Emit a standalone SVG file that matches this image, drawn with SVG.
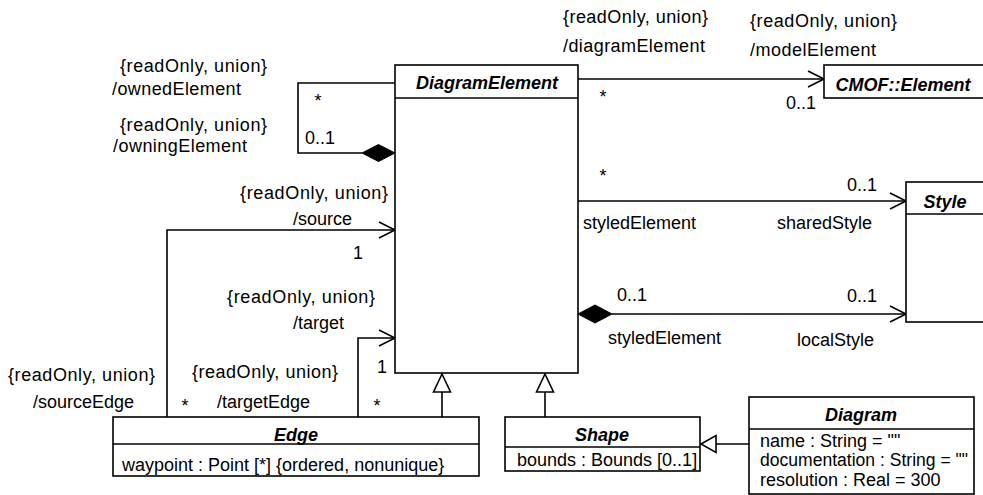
<svg xmlns="http://www.w3.org/2000/svg" width="983" height="495" viewBox="0 0 983 495">
<defs>
<style>
.t{font-family:"Liberation Sans",Arial,sans-serif;font-size:18px;fill:#000}
.m{text-anchor:middle}
.b{font-family:"Liberation Sans",Arial,sans-serif;font-size:18px;font-weight:bold;font-style:italic;fill:#000;text-anchor:middle}
.box{fill:#fff;stroke:#000;stroke-width:1.6}
.ln{fill:none;stroke:#000;stroke-width:1.6}
.dia{fill:#000;stroke:#000;stroke-width:1}
.tri{fill:#fff;stroke:#000;stroke-width:1.6}
</style>
</defs>
<rect width="983" height="495" fill="#fff"/>

<g id="connectors">
<polyline class="ln" points="395,83 298,83 298,153 362,153"/>
<polygon class="dia" points="395,153 378.5,144.5 362,153 378.5,161.5"/>
<line class="ln" x1="578" y1="79" x2="824" y2="79"/>
<polyline class="ln" points="808,71 824,79 808,87"/>
<line class="ln" x1="578" y1="201" x2="906" y2="201"/>
<polyline class="ln" points="890,193 906,201 890,209"/>
<line class="ln" x1="612" y1="314" x2="906" y2="314"/>
<polyline class="ln" points="890,306 906,314 890,322"/>
<polygon class="dia" points="578,314 595,305 612,314 595,323"/>
<polyline class="ln" points="167,417 167,230 395,230"/>
<polyline class="ln" points="379,222 395,230 379,238"/>
<polyline class="ln" points="358,417 358,338 395,338"/>
<polyline class="ln" points="379,330 395,338 379,346"/>
<line class="ln" x1="442" y1="417" x2="442" y2="392"/>
<polygon class="tri" points="442,374 433.5,392 450.5,392"/>
<line class="ln" x1="545" y1="417" x2="545" y2="392"/>
<polygon class="tri" points="545,374 536.5,392 553.5,392"/>
<line class="ln" x1="749" y1="444" x2="716" y2="444"/>
<polygon class="tri" points="701,444 716,435.5 716,452.5"/>
</g>

<g id="labels">
<text class="t" x="120" y="72" textLength="147">{readOnly, union}</text>
<text class="t" x="112" y="95" textLength="129">/ownedElement</text>
<text class="t" x="120" y="131" textLength="147">{readOnly, union}</text>
<text class="t" x="113" y="152" textLength="134">/owningElement</text>
<text class="t m" x="318" y="107">*</text>
<text class="t" x="305" y="144">0..1</text>

<text class="t" x="563" y="23" textLength="145">{readOnly, union}</text>
<text class="t" x="563" y="52" textLength="142">/diagramElement</text>
<text class="t" x="750" y="27" textLength="147">{readOnly, union}</text>
<text class="t" x="750" y="56" textLength="126">/modelElement</text>
<text class="t m" x="603" y="103">*</text>
<text class="t" x="786" y="109">0..1</text>

<text class="t m" x="603" y="182">*</text>
<text class="t" x="847" y="191">0..1</text>
<text class="t" x="583" y="229">styledElement</text>
<text class="t" x="777" y="229">sharedStyle</text>
<text class="t" x="617" y="301">0..1</text>
<text class="t" x="847" y="302">0..1</text>
<text class="t" x="608" y="344">styledElement</text>
<text class="t" x="797" y="346">localStyle</text>

<text class="t" x="240" y="199" textLength="148">{readOnly, union}</text>
<text class="t" x="293" y="225">/source</text>
<text class="t m" x="358" y="259">1</text>
<text class="t" x="227" y="303" textLength="148">{readOnly, union}</text>
<text class="t" x="293" y="329">/target</text>
<text class="t m" x="382" y="373">1</text>
<text class="t" x="8" y="381" textLength="147">{readOnly, union}</text>
<text class="t" x="33" y="408">/sourceEdge</text>
<text class="t" x="192" y="378" textLength="146">{readOnly, union}</text>
<text class="t m" x="185" y="412">*</text>
<text class="t" x="217" y="408">/targetEdge</text>
<text class="t m" x="377" y="412">*</text>
</g>

<g id="DiagramElement">
<rect class="box" x="395" y="65" width="183" height="308"/>
<line class="ln" x1="395" y1="98" x2="578" y2="98"/>
<text class="b" x="487" y="89">DiagramElement</text>
</g>

<g id="CMOFElement">
<rect class="box" x="824" y="65" width="170" height="33"/>
<text class="b" x="903" y="91">CMOF::Element</text>
</g>

<g id="Style">
<rect class="box" x="906" y="182" width="90" height="140"/>
<line class="ln" x1="906" y1="214" x2="996" y2="214"/>
<text class="b" x="945" y="208">Style</text>
</g>

<g id="Edge">
<rect class="box" x="113" y="417" width="366" height="59"/>
<line class="ln" x1="113" y1="444" x2="479" y2="444"/>
<text class="b" x="296" y="441">Edge</text>
<text class="t" x="122" y="471">waypoint : Point [*] {ordered, nonunique}</text>
</g>

<g id="Shape">
<rect class="box" x="505" y="417" width="195" height="54"/>
<line class="ln" x1="505" y1="447" x2="700" y2="447"/>
<text class="b" x="602" y="441">Shape</text>
<text class="t" x="517" y="466">bounds : Bounds [0..1]</text>
</g>

<g id="Diagram">
<rect class="box" x="749" y="397" width="225" height="97"/>
<line class="ln" x1="749" y1="429" x2="974" y2="429"/>
<text class="b" x="861" y="421">Diagram</text>
<text class="t" x="760" y="447">name : String = ""</text>
<text class="t" x="760" y="466" textLength="208" lengthAdjust="spacingAndGlyphs">documentation : String = ""</text>
<text class="t" x="760" y="486">resolution : Real = 300</text>
</g>
</svg>
